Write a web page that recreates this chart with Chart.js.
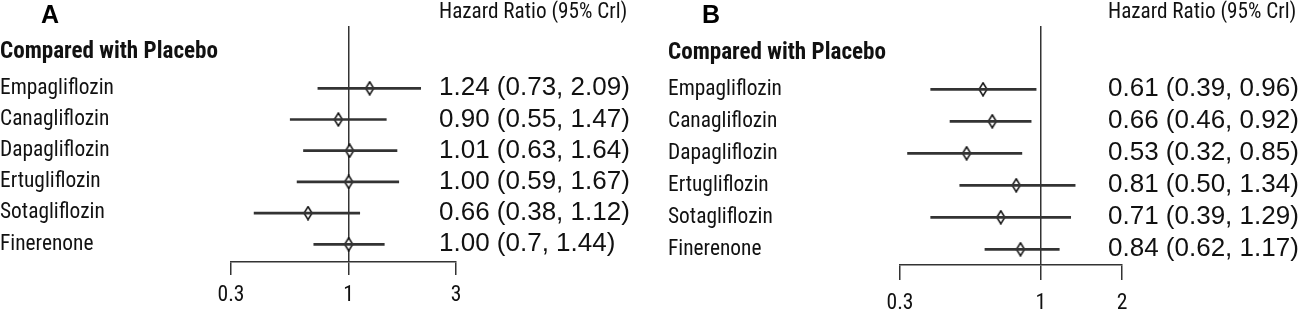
<!DOCTYPE html>
<html><head><meta charset="utf-8">
<script src="https://cdn.jsdelivr.net/npm/chart.js@4/dist/chart.umd.min.js"></script>
<style>
html,body{margin:0;padding:0;background:#fff;}
#wrap{display:flex;width:1299px;height:310px;overflow:hidden;}
canvas{display:block;}
</style>
</head><body>
<div id="wrap"><canvas id="cA" width="650" height="310"></canvas><canvas id="cB" width="649" height="310"></canvas></div>
<script>
// ---- data ----
const categories = ['Empagliflozin', 'Canagliflozin', 'Dapagliflozin', 'Ertugliflozin', 'Sotagliflozin', 'Finerenone'];
const groupHeader = 'Compared with Placebo';
const valueHeader = 'Hazard Ratio (95% Crl)';

const hrA   = [1.24, 0.90, 1.01, 1.00, 0.66, 1.00];
const lowA  = [0.73, 0.55, 0.63, 0.59, 0.38, 0.70];
const highA = [2.09, 1.47, 1.64, 1.67, 1.12, 1.44];
const textA = ['1.24 (0.73, 2.09)', '0.90 (0.55, 1.47)', '1.01 (0.63, 1.64)', '1.00 (0.59, 1.67)', '0.66 (0.38, 1.12)', '1.00 (0.7, 1.44)'];

const hrB   = [0.61, 0.66, 0.53, 0.81, 0.71, 0.84];
const lowB  = [0.39, 0.46, 0.32, 0.50, 0.39, 0.62];
const highB = [0.96, 0.92, 0.85, 1.34, 1.29, 1.17];
const textB = ['0.61 (0.39, 0.96)', '0.66 (0.46, 0.92)', '0.53 (0.32, 0.85)', '0.81 (0.50, 1.34)', '0.71 (0.39, 1.29)', '0.84 (0.62, 1.17)'];

const xTicksA = [0.3, 1, 3];
const xTickLabelsA = ['0.3', '1', '3'];
const xTicksB = [0.3, 1, 2];
const xTickLabelsB = ['0.3', '1', '2'];

// ---- fonts ----
const NARROW = '"Roboto Condensed", "DejaVu Sans Condensed", sans-serif';
const REGULAR = '"Liberation Sans", Arial, sans-serif';
const mctx = document.createElement('canvas').getContext('2d');
function fitSize(weight, text, targetW, maxSize) {
  mctx.font = weight + ' 100px ' + NARROW;
  const w = mctx.measureText(text).width;
  return Math.min(maxSize, Math.round(100 * targetW / w * 10) / 10);
}
const nameSize = fitSize('normal', 'Empagliflozin', 114, 24);
const headerSize = fitSize('bold', 'Compared with Placebo', 218, 24);
const titleSize = fitSize('normal', 'Hazard Ratio (95% Crl)', 188, 23);
const xTickSize = fitSize('normal', '0.3', 27, 26);

const TEXT = '#111';
const LINE = '#333';

function diamondImage() {
  const c = document.createElement('canvas');
  c.width = 10; c.height = 15;
  const g = c.getContext('2d');
  g.beginPath();
  g.moveTo(5, 1); g.lineTo(9, 7.5); g.lineTo(5, 14); g.lineTo(1, 7.5); g.closePath();
  g.fillStyle = '#fff'; g.fill();
  g.lineWidth = 1.5; g.strokeStyle = '#111'; g.stroke();
  return c;
}

const letterPlugin = {
  id: 'panelLetter',
  afterDraw(chart, args, opts) {
    const ctx = chart.ctx;
    ctx.save();
    ctx.font = 'bold 25px ' + REGULAR;
    ctx.fillStyle = '#000';
    ctx.textAlign = 'center';
    ctx.textBaseline = 'middle';
    ctx.fillText(opts.text, opts.x, opts.y);
    ctx.restore();
  }
};

function zeroWidth(s) {
  s.width = 0;
  s.paddingTop = 0; s.paddingBottom = 0; s.paddingLeft = 0; s.paddingRight = 0;
}

function makePanel(id, d, L) {
  const W = L.width, H = 310;
  const bottomY = H - L.bottomH;
  const yMin = (L.top - L.row0) / L.step;
  const yMax = (bottomY - L.row0) / L.step;
  const headerV = (L.headerY - L.row0) / L.step;
  const titleV = (L.titleY - L.row0) / L.step;
  const rows = d.names.map((n, i) => i);

  new Chart(document.getElementById(id), {
    type: 'scatter',
    data: {
      datasets: [
        {
          type: 'bar',
          indexAxis: 'y',
          data: d.names.map((n, i) => ({ y: i, x: [d.low[i], d.high[i]] })),
          backgroundColor: LINE,
          borderWidth: 0,
          barThickness: 2,
          xAxisID: 'x', yAxisID: 'y'
        },
        {
          type: 'scatter',
          data: d.hr.map((v, i) => ({ x: v, y: i })),
          pointStyle: diamondImage(),
          pointRadius: 6,
          xAxisID: 'x', yAxisID: 'y'
        }
      ]
    },
    options: {
      responsive: false,
      animation: false,
      layout: { padding: { top: L.top, left: L.areaLeft, right: W - L.areaRight, bottom: 0 } },
      plugins: {
        legend: { display: false },
        tooltip: { enabled: false },
        panelLetter: { text: L.letter, x: L.letterX, y: L.letterY }
      },
      scales: {
        x: {
          type: 'logarithmic',
          position: 'bottom',
          beginAtZero: false,
          offset: false,
          min: d.xTicks[0], max: d.xTicks[d.xTicks.length - 1],
          afterBuildTicks: s => { s.ticks = d.xTicks.map(v => ({ value: v })); },
          afterFit: s => { s.height = L.bottomH; s.paddingLeft = 0; s.paddingRight = 0; },
          grid: {
            drawOnChartArea: true,
            offset: false,
            color: c => (c.tick && c.tick.value === 1) ? LINE : 'rgba(0,0,0,0)',
            tickColor: LINE,
            lineWidth: 1.5,
            tickLength: L.tickLen
          },
          border: { display: true, color: LINE, width: 1.5 },
          ticks: {
            autoSkip: false, maxRotation: 0,
            padding: L.tickPad,
            color: TEXT,
            font: { family: NARROW, size: xTickSize },
            callback: (v, i) => d.xTickLabels[i]
          }
        },
        y: {
          type: 'linear',
          position: 'left',
          reverse: true,
          offset: false,
          min: yMin, max: yMax,
          afterBuildTicks: s => { s.ticks = [{ value: headerV }].concat(rows.map(v => ({ value: v }))); },
          afterFit: zeroWidth,
          grid: { display: false, drawTicks: false, offset: false },
          border: { display: false },
          ticks: {
            autoSkip: false,
            mirror: true,
            crossAlign: 'near',
            padding: L.nameX - L.areaLeft,
            color: TEXT,
            font: c => (c.index === 0) ? { family: NARROW, size: headerSize, weight: 'bold' } : { family: NARROW, size: nameSize },
            callback: (v, i) => i === 0 ? groupHeader : d.names[i - 1]
          }
        },
        y2: {
          type: 'linear',
          position: 'left',
          reverse: true,
          offset: false,
          min: yMin, max: yMax,
          afterBuildTicks: s => { s.ticks = [{ value: titleV }].concat(rows.map(v => ({ value: v }))); },
          afterFit: zeroWidth,
          grid: { display: false, drawTicks: false, offset: false },
          border: { display: false },
          ticks: {
            autoSkip: false,
            mirror: true,
            crossAlign: 'near',
            padding: L.valueX - L.areaLeft,
            color: TEXT,
            font: c => (c.index === 0) ? { family: NARROW, size: titleSize } : { family: REGULAR, size: 26 },
            callback: (v, i) => i === 0 ? valueHeader : d.text[i - 1]
          }
        }
      }
    },
    plugins: [letterPlugin]
  });
}

makePanel('cA',
  { names: categories, hr: hrA, low: lowA, high: highA, text: textA, xTicks: xTicksA, xTickLabels: xTickLabelsA },
  { width: 650, letter: 'A', letterX: 50, letterY: 16, areaLeft: 231, areaRight: 456, nameX: 0, valueX: 439,
    bottomH: 48, top: 26, row0: 88.3, step: 31.2, headerY: 52, titleY: 13, tickLen: 13, tickPad: 8 });

makePanel('cB',
  { names: categories, hr: hrB, low: lowB, high: highB, text: textB, xTicks: xTicksB, xTickLabels: xTickLabelsB },
  { width: 649, letter: 'B', letterX: 61, letterY: 16.5, areaLeft: 250, areaRight: 472, nameX: 18, valueX: 458,
    bottomH: 45, top: 26, row0: 89.3, step: 32, headerY: 53, titleY: 13, tickLen: 15, tickPad: 11 });
</script>
</body></html>
